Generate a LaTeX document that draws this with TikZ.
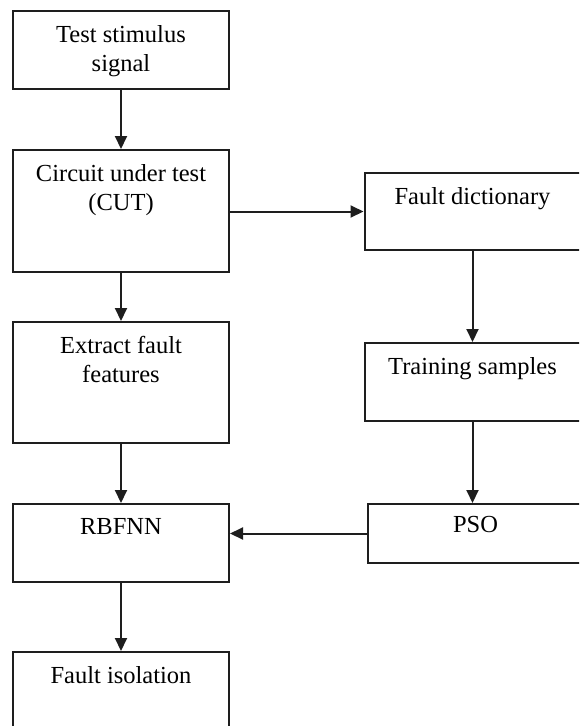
\documentclass[tikz,border=0pt]{standalone}
\usepackage{fontspec}
\setmainfont{Liberation Serif}
\usetikzlibrary{arrows.meta, positioning}
\definecolor{cline}{HTML}{1E1E1E}
\tikzset{
  every picture/.style={font=\fontsize{24.5}{29}\selectfont, line width=2pt},
  stage/.style={draw=cline, minimum width=216, minimum height=#1, inner sep=0pt},
  stage/.default=78,
  caption/.style={align=center, inner sep=0pt},
  arrow/.style={-{Triangle[length=13pt, width=12pt]}, draw=cline},
}

\begin{document}
\begin{tikzpicture}[x=1pt, y=-1pt]
  \useasboundingbox (0,0) rectangle (579,726);
  \clip (0,0) rectangle (579,726);
  % left column: stimulus down to isolation
  \node[stage] (stim) at (121,50) {};
  \node[caption, below=14pt of stim.north] (stimtxt) {Test stimulus\\signal};
  \node[stage=122] (cut) at (121,211) {};
  \node[caption, below=14pt of cut.north] (cuttxt) {Circuit under test\\(CUT)};
  \node[stage=121] (feat) at (121,382.5) {};
  \node[caption, below=14pt of feat.north] (feattxt) {Extract fault\\features};
  \node[stage] (rbf) at (121,543) {};
  \node[caption, below=14pt of rbf.north] (rbftxt) {RBFNN};
  \node[stage=80] (iso) at (121,692) {};
  \node[caption, below=14pt of iso.north] (isotxt) {Fault isolation};
  % right column: dictionary, samples, optimiser
  \node[stage=77] (dict) at (472.5,211.5) {};
  \node[caption, below=14pt of dict.north] (dicttxt) {Fault dictionary};
  \node[stage] (samp) at (472.5,382) {};
  \node[caption, below=14pt of samp.north] (samptxt) {Training samples};
  \node[stage=59] (pso) at (475.5,533.5) {};
  \node[caption, below=12pt of pso.north] (psotxt) {PSO};

  \foreach \a/\b in {stim/cut, cut/feat, feat/rbf, rbf/iso, dict/samp}
    \draw[arrow] (\a) -- (\b);
  \draw[arrow] (cut.east |- dict.west) -- (dict.west);
  \draw[arrow] (samp.south) -- (samp.south |- pso.north);
  \draw[arrow] (pso.west) -- (pso.west -| rbf.east);
\end{tikzpicture}
\end{document}
